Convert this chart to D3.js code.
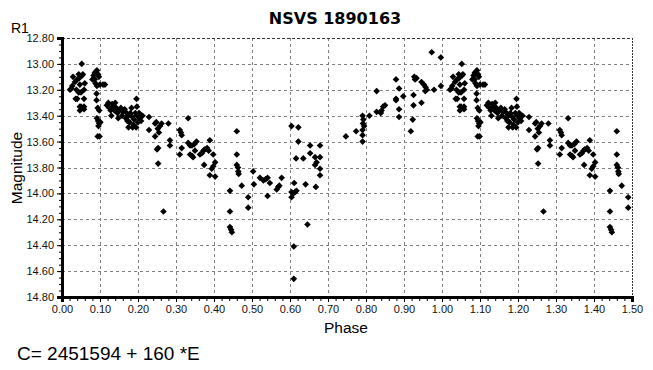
<!DOCTYPE html>
<html>
<head>
<meta charset="utf-8">
<script src="https://cdn.jsdelivr.net/npm/d3@7"></script>
<style>
    body { margin: 0; background: #fff; }
    text { font-family: "Liberation Sans", Arial, sans-serif; }
</style>
</head>
<body>
<div id="chart"></div>
<script>
var maxRise = [
    [0.021,13.20],[0.025,13.19],[0.027,13.17],[0.029,13.10],[0.034,13.14],[0.038,13.20],
    [0.040,13.12],[0.044,13.08],[0.045,13.11],[0.047,13.16],[0.050,13.22],[0.052,13.00],
    [0.053,13.09],[0.055,13.08],[0.058,13.20],[0.060,13.15],[0.036,13.27],[0.040,13.27],
    [0.058,13.27],[0.047,13.33],[0.050,13.33],[0.058,13.33],[0.047,13.36],[0.058,13.35],
    [0.044,13.22]
];
var maxPeak = [
    [0.080,13.12],[0.083,13.09],[0.086,13.07],[0.089,13.06],[0.092,13.05],[0.095,13.08],
    [0.097,13.10],[0.086,13.12],[0.088,13.15],[0.092,13.17],[0.100,13.16],[0.108,13.16],
    [0.113,13.16],[0.091,13.23],[0.091,13.28],[0.094,13.34],[0.098,13.36],[0.092,13.42],
    [0.095,13.44],[0.098,13.46],[0.101,13.45],[0.096,13.48],[0.094,13.56],[0.099,13.56]
];
var decline = [
    [0.118,13.32],[0.122,13.30],[0.125,13.34],[0.128,13.36],[0.132,13.31],[0.135,13.33],
    [0.138,13.36],[0.140,13.30],[0.143,13.34],[0.146,13.38],[0.150,13.36],[0.148,13.42],
    [0.155,13.34],[0.160,13.37],[0.165,13.35],[0.170,13.38],[0.168,13.42],[0.172,13.44],
    [0.175,13.40],[0.178,13.45],[0.180,13.38],[0.183,13.34],[0.185,13.41],[0.188,13.47],
    [0.190,13.43],[0.193,13.38],[0.196,13.27],[0.197,13.33],[0.198,13.40],[0.200,13.45],
    [0.203,13.38],[0.205,13.42],[0.208,13.44],[0.212,13.40],[0.175,13.49],[0.186,13.49],
    [0.130,13.40],[0.158,13.40],[0.195,13.49],
    [0.229,13.41],[0.229,13.51],[0.245,13.46],[0.248,13.45],[0.245,13.56],[0.258,13.48],
    [0.262,13.46],[0.255,13.53],[0.252,13.50],[0.253,13.65],[0.250,13.66],[0.253,13.77],
    [0.280,13.46],[0.284,13.59],[0.284,13.63],[0.267,14.14]
];
var lateDecline = [
    [0.310,13.51],[0.313,13.53],[0.315,13.55],[0.332,13.42],[0.315,13.65],[0.310,13.70],
    [0.332,13.61],[0.337,13.63],[0.342,13.63],[0.348,13.62],[0.354,13.60],[0.337,13.70],
    [0.342,13.71],[0.345,13.72],[0.350,13.67],[0.363,13.70],[0.368,13.69],[0.372,13.67],
    [0.376,13.66],[0.382,13.65],[0.386,13.67],[0.389,13.59],[0.398,13.70],[0.374,13.78],
    [0.394,13.81],[0.398,13.79],[0.403,13.76],[0.389,13.86],[0.403,13.87],
    [0.442,13.98],[0.442,14.14],[0.442,14.26],[0.445,14.28],[0.447,14.30],[0.460,13.52],
    [0.460,13.70],[0.460,13.78],[0.463,13.80],[0.464,13.83],[0.465,13.85],[0.473,13.94],
    [0.490,14.03],[0.490,14.11]
];
var minimum = [
    [0.503,13.83],[0.505,13.93],[0.521,13.88],[0.530,13.90],[0.536,13.89],[0.541,13.88],
    [0.547,13.92],[0.541,14.02],[0.565,13.97],[0.569,13.95],[0.572,13.94],[0.578,13.88],
    [0.604,13.48],[0.622,13.49],[0.622,13.60],[0.616,13.73],[0.635,13.73],[0.611,13.92],
    [0.604,13.99],[0.609,14.00],[0.613,13.99],[0.617,13.98],[0.604,14.03],[0.641,13.93],
    [0.668,13.95],[0.646,14.24],[0.610,14.41],[0.610,14.66],[0.653,13.63],[0.679,13.63],
    [0.653,13.69],[0.666,13.72],[0.679,13.72],[0.666,13.78],[0.670,13.76],[0.679,13.81],
    [0.679,13.86]
];
var rise = [
    [0.747,13.56],[0.774,13.52],[0.791,13.40],[0.793,13.43],[0.792,13.46],[0.795,13.48],
    [0.791,13.51],[0.791,13.55],[0.791,13.60],[0.809,13.40],[0.828,13.21],[0.828,13.37],
    [0.839,13.38],[0.841,13.36],[0.845,13.33],[0.850,13.32],[0.879,13.12],[0.887,13.19],
    [0.879,13.27],[0.879,13.28],[0.898,13.25],[0.887,13.35],[0.887,13.41],[0.927,13.10],
    [0.929,13.12],[0.933,13.11],[0.925,13.24],[0.925,13.32],[0.946,13.30],[0.923,13.43],
    [0.918,13.52],[0.946,13.14],[0.952,13.16],[0.957,13.18],[0.960,13.20],[0.956,13.21],
    [0.979,13.20],[0.997,13.17],[0.973,12.91],[0.997,12.95]
];

var xTicks = [0, 0.1, 0.2, 0.3, 0.4, 0.5, 0.6, 0.7, 0.8, 0.9, 1.0, 1.1, 1.2, 1.3, 1.4, 1.5];
var yTicks = [12.8, 13.0, 13.2, 13.4, 13.6, 13.8, 14.0, 14.2, 14.4, 14.6, 14.8];

var title = "NSVS 1890163",
    epochText = "C= 2451594 + 160 *E";

var width = 653,
    height = 370,
    margin = { left: 62, right: 21, top: 38, bottom: 73 };

var innerW = width - margin.left - margin.right,
    innerH = height - margin.top - margin.bottom;

function translate(x, y){
    return "translate(" + x + "," + y + ")";
}

// one cycle, then the first half repeated one phase later
var cycle = maxRise.concat(maxPeak, decline, lateDecline, minimum, rise);
var points = cycle.concat(
    cycle.filter(function(d){ return d[0] < 0.5; })
         .map(function(d){ return [d[0] + 1, d[1]]; })
);

var xScale = d3.scaleLinear().domain([0, 1.5]).range([0, innerW]);
var yScale = d3.scaleLinear().domain([12.8, 14.8]).range([0, innerH]);

var svg = d3.select("#chart")
    .append("svg")
    .attr("width", width)
    .attr("height", height);

svg.append("rect").attr("width", width).attr("height", height).attr("fill", "#fff");

var g = svg.append("g").attr("transform", translate(margin.left, margin.top));

// grid
g.append("g")
    .selectAll("line.vgrid")
    .data(xTicks.slice(1, -1))
    .enter().append("line")
    .attr("x1", function(d){ return Math.round(xScale(d)) + 0.5; })
    .attr("x2", function(d){ return Math.round(xScale(d)) + 0.5; })
    .attr("y1", 0).attr("y2", innerH)
    .attr("stroke", "#808080").attr("stroke-dasharray", "3,3");

g.append("g")
    .selectAll("line.hgrid")
    .data(yTicks.slice(1, -1))
    .enter().append("line")
    .attr("y1", function(d){ return Math.round(yScale(d)) + 0.5; })
    .attr("y2", function(d){ return Math.round(yScale(d)) + 0.5; })
    .attr("x1", 0).attr("x2", innerW)
    .attr("stroke", "#808080").attr("stroke-dasharray", "3,3");

// top and right frame, dotted
g.append("line")
    .attr("x1", 0).attr("x2", innerW).attr("y1", 0.5).attr("y2", 0.5)
    .attr("stroke", "#333").attr("stroke-dasharray", "3,2");
g.append("line")
    .attr("x1", innerW + 0.5).attr("x2", innerW + 0.5).attr("y1", 0).attr("y2", innerH)
    .attr("stroke", "#333").attr("stroke-dasharray", "2,1");

// minor ticks
var xMinor = d3.range(0, 1.5001, 0.02);
var yMinor = d3.range(12.8, 14.8001, 0.05);

g.append("g")
    .attr("transform", translate(0, innerH))
    .call(d3.axisBottom(xScale).tickValues(xMinor).tickSize(4).tickFormat(""))
    .call(function(a){ a.select(".domain").remove(); });

g.append("g")
    .call(d3.axisLeft(yScale).tickValues(yMinor).tickSize(3).tickFormat(""))
    .call(function(a){ a.select(".domain").remove(); });

// major axes
var xAxis = g.append("g")
    .attr("transform", translate(0, innerH))
    .call(d3.axisBottom(xScale).tickValues(xTicks).tickSize(5).tickPadding(3)
        .tickFormat(d3.format(".2f")));

var yAxis = g.append("g")
    .call(d3.axisLeft(yScale).tickValues(yTicks).tickSize(5).tickPadding(3)
        .tickFormat(d3.format(".2f")));

[xAxis, yAxis].forEach(function(a){
    a.selectAll("text")
        .style("font-family", "'Liberation Sans', Arial, sans-serif")
        .style("font-size", "11px")
        .attr("fill", "#111");
    a.select(".domain").attr("stroke-width", 3).attr("stroke", "#000");
});

// points
g.append("g")
    .selectAll(".point")
    .data(points)
    .enter()
    .append("path")
    .attr("class", "point")
    .attr("d", d3.symbol().type(d3.symbolSquare).size(22))
    .attr("transform", function(d){
        return translate(xScale(d[0]), yScale(d[1])) + " rotate(45)";
    })
    .attr("fill", "#000");

// labels
svg.append("text")
    .attr("x", 335).attr("y", 24)
    .attr("text-anchor", "middle")
    .style("font-family", "'DejaVu Sans', Verdana, sans-serif")
    .style("font-weight", "bold")
    .style("font-size", "16px")
    .text(title);

svg.append("text")
    .attr("x", 11).attr("y", 33)
    .style("font-size", "14px")
    .text("R1");

svg.append("text")
    .attr("transform", translate(22, 168) + " rotate(-90)")
    .attr("text-anchor", "middle")
    .style("font-size", "15.5px")
    .text("Magnitude");

svg.append("text")
    .attr("x", 346).attr("y", 333)
    .attr("text-anchor", "middle")
    .style("font-size", "15.5px")
    .text("Phase");

svg.append("text")
    .attr("x", 17).attr("y", 360)
    .style("font-size", "19px")
    .text(epochText);
</script>
</body>
</html>
